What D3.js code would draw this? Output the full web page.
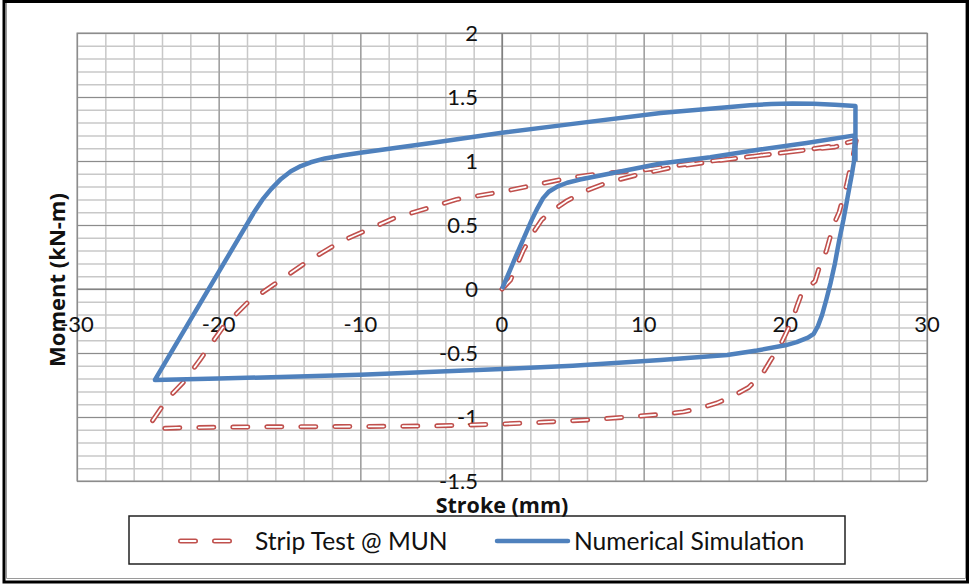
<!DOCTYPE html>
<html>
<head>
<meta charset="utf-8">
<script src="https://cdn.jsdelivr.net/npm/d3@7"></script>
<style>
  body { margin: 0; background: #fff; }
  svg text { font-family: Lato, "Open Sans", sans-serif; fill: #111; }
  svg text.axis-title { font-family: "Open Sans", sans-serif; font-weight: bold; }
</style>
</head>
<body>
<div id="chart"></div>
<script>
// Tick labels
const xTickValues = [-30, -20, -10, 0, 10, 20, 30];
const yTickValues = [-1.5, -1, -0.5, 0, 0.5, 1, 1.5, 2];

// Strip Test @ MUN (stroke mm, moment kN-m)
const stripStroke = [0, 0.6, 1.5, 2.2, 2.8, 3.4, 4.6, 6.0, 7.4, 9.5, 12, 15, 18, 21, 23.5, 25,
  24.8, 24.3, 23.8, 23.4, 22.9, 22.4, 22.1, 21.2, 20.8, 20.5, 19.6, 19.0, 18.4, 17.4, 16.4, 15.2, 14.0, 12.8, 11.2, 6.5, 3, 0, -5, -10, -17, -20, -23, -24.2,
  -24.8, -24.0, -23.2, -22.5, -21.3, -19.7, -18, -15.9, -13.8, -11.4, -7.7, -3.2, 0, 2.2, 4.8, 6.9, 10, 14, 18, 21, 23.5, 25];
const stripMoment = [0, 0.07, 0.3, 0.44, 0.54, 0.6, 0.69, 0.77, 0.83, 0.89, 0.95, 1.0, 1.04, 1.08, 1.11, 1.16,
  1.05, 0.8, 0.6, 0.5, 0.3, 0.17, 0.06, -0.02, -0.14, -0.24, -0.45, -0.55, -0.66, -0.77, -0.83, -0.89, -0.93, -0.96, -0.98, -1.02, -1.04, -1.055, -1.07, -1.074, -1.077, -1.08, -1.085, -1.09,
  -1.05, -0.92, -0.81, -0.73, -0.55, -0.3, -0.11, 0.05, 0.21, 0.37, 0.55, 0.70, 0.76, 0.81, 0.87, 0.9, 0.93, 0.99, 1.04, 1.08, 1.12, 1.16];

// Numerical Simulation
const simStroke = [0, 1, 2.1, 2.5, 2.9, 3.3, 3.9, 4.6, 5.5, 8, 11.2, 14.7, 18.2, 21.5, 24.9,
  24.85, 24.7, 24.4, 24.1, 23.8, 23.5, 23.2, 22.9, 22.6, 22.3, 22.0, 21.6, 20.8, 20, 18, 15.9, 11.2, 5, 0, -10, -20, -24.5,
  -17.5, -16.9, -16.3, -15.6, -14.9, -14.2, -13.5, -12.5, -11.2, -10, -5, 0, 5, 11.2, 15.9, 17.5, 19, 20.5, 22, 23.5, 24.95, 24.95];
const simMoment = [0, 0.26, 0.54, 0.63, 0.71, 0.76, 0.80, 0.83, 0.855, 0.91, 0.98, 1.03, 1.09, 1.14, 1.2,
  1.0, 0.9, 0.72, 0.54, 0.38, 0.2, 0.05, -0.08, -0.2, -0.29, -0.35, -0.38, -0.415, -0.44, -0.48, -0.515, -0.555, -0.6, -0.625, -0.67, -0.70, -0.71,
  0.60, 0.70, 0.78, 0.86, 0.92, 0.96, 0.99, 1.02, 1.045, 1.065, 1.14, 1.22, 1.29, 1.375, 1.42, 1.435, 1.445, 1.45, 1.448, 1.44, 1.43, 1.0];

const width = 969, height = 585;
const plot = { left: 77, right: 927, top: 33, bottom: 481 };

const svg = d3.select('#chart').append('svg')
  .attr('width', width)
  .attr('height', height);

// Outer frame
svg.append('rect')
  .attr('x', 4).attr('y', 1.5)
  .attr('width', 963.5).attr('height', 580.5)
  .attr('fill', 'none').attr('stroke', '#000').attr('stroke-width', 3);
svg.append('path')
  .attr('d', 'M6.5,3 V578.5 H965.5 V3')
  .attr('fill', 'none').attr('stroke', '#9a9a9a').attr('stroke-width', 1);

const x = d3.scaleLinear().domain([-30, 30]).range([plot.left, plot.right]);
const y = d3.scaleLinear().domain([-1.5, 2]).range([plot.bottom, plot.top]);
const plotW = plot.right - plot.left, plotH = plot.bottom - plot.top;

// Minor gridlines
svg.append('g')
  .attr('transform', `translate(0,${plot.bottom})`)
  .call(d3.axisBottom(x).tickValues(d3.range(-30, 31, 2)).tickSize(-plotH).tickFormat(''))
  .call(g => g.select('.domain').remove())
  .call(g => g.selectAll('line').attr('stroke', '#c8c8c8').attr('stroke-width', 1.5));
svg.append('g')
  .attr('transform', `translate(${plot.left},0)`)
  .call(d3.axisLeft(y).tickValues(d3.range(-15, 21, 1).map(d => d / 10)).tickSize(-plotW).tickFormat(''))
  .call(g => g.select('.domain').remove())
  .call(g => g.selectAll('line').attr('stroke', '#c8c8c8').attr('stroke-width', 1.5));

// Major gridlines
svg.append('g')
  .attr('transform', `translate(0,${plot.bottom})`)
  .call(d3.axisBottom(x).tickValues(xTickValues).tickSize(-plotH).tickFormat(''))
  .call(g => g.select('.domain').remove())
  .call(g => g.selectAll('line').attr('stroke', '#8c8c8c').attr('stroke-width', 1));
svg.append('g')
  .attr('transform', `translate(${plot.left},0)`)
  .call(d3.axisLeft(y).tickValues(yTickValues).tickSize(-plotW).tickFormat(''))
  .call(g => g.select('.domain').remove())
  .call(g => g.selectAll('line').attr('stroke', '#8c8c8c').attr('stroke-width', 1));

// Plot border
svg.append('rect')
  .attr('x', plot.left).attr('y', plot.top)
  .attr('width', plotW).attr('height', plotH)
  .attr('fill', 'none').attr('stroke', '#8c8c8c').attr('stroke-width', 1);

// Axes crossing at zero
svg.append('line')
  .attr('x1', x(0)).attr('x2', x(0)).attr('y1', plot.top).attr('y2', plot.bottom)
  .attr('stroke', '#7a7a7a').attr('stroke-width', 1.2);
svg.append('line')
  .attr('x1', plot.left).attr('x2', plot.right).attr('y1', y(0)).attr('y2', y(0))
  .attr('stroke', '#7a7a7a').attr('stroke-width', 1.2);

// Tick labels
svg.append('g').selectAll('text')
  .data(xTickValues)
  .join('text')
  .attr('x', d => x(d))
  .attr('y', y(0) + 35)
  .attr('dy', '0.35em')
  .attr('text-anchor', 'middle')
  .attr('font-size', 22)
  .text(d => d);

svg.append('g').selectAll('text')
  .data(yTickValues)
  .join('text')
  .attr('x', x(0) - 24)
  .attr('y', d => y(d))
  .attr('dy', '0.35em')
  .attr('text-anchor', 'end')
  .attr('font-size', 22)
  .text(d => d);

// Series
const line = d3.line()
  .x(d => x(d[0]))
  .y(d => y(d[1]));

const stripData = stripStroke.map((s, i) => [s, stripMoment[i]]);
const simData = simStroke.map((s, i) => [s, simMoment[i]]);

const dash = '15,19';
svg.append('path')
  .datum(stripData)
  .attr('d', line)
  .attr('fill', 'none')
  .attr('stroke', '#c0504d')
  .attr('stroke-width', 5)
  .attr('stroke-linecap', 'round')
  .attr('stroke-linejoin', 'round')
  .attr('stroke-dasharray', dash);
svg.append('path')
  .datum(stripData)
  .attr('d', line)
  .attr('fill', 'none')
  .attr('stroke', '#fff')
  .attr('stroke-width', 1.8)
  .attr('stroke-linecap', 'round')
  .attr('stroke-linejoin', 'round')
  .attr('stroke-dasharray', dash);

svg.append('path')
  .datum(simData)
  .attr('d', line)
  .attr('fill', 'none')
  .attr('stroke', '#4f81bd')
  .attr('stroke-width', 4.5)
  .attr('stroke-linejoin', 'round');

// Legend
const legend = svg.append('g');
legend.append('rect')
  .attr('x', 129).attr('y', 516)
  .attr('width', 716).attr('height', 48)
  .attr('fill', '#fff').attr('stroke', '#222').attr('stroke-width', 1.5);

const ly = 541;
legend.append('line')
  .attr('x1', 180.5).attr('x2', 231).attr('y1', ly).attr('y2', ly)
  .attr('stroke', '#c0504d').attr('stroke-width', 5)
  .attr('stroke-linecap', 'round').attr('stroke-dasharray', dash);
legend.append('line')
  .attr('x1', 180.5).attr('x2', 231).attr('y1', ly).attr('y2', ly)
  .attr('stroke', '#fff').attr('stroke-width', 1.8)
  .attr('stroke-linecap', 'round').attr('stroke-dasharray', dash);
legend.append('text')
  .attr('x', 255).attr('y', ly).attr('dy', '0.35em')
  .attr('font-size', 24.6)
  .text('Strip Test @ MUN');

legend.append('line')
  .attr('x1', 497).attr('x2', 568).attr('y1', ly).attr('y2', ly)
  .attr('stroke', '#4f81bd').attr('stroke-width', 4.5)
  .attr('stroke-linecap', 'round');
legend.append('text')
  .attr('x', 574).attr('y', ly).attr('dy', '0.35em')
  .attr('font-size', 24.6)
  .text('Numerical Simulation');

// Axis titles
svg.append('text')
  .attr('class', 'axis-title')
  .attr('x', 502).attr('y', 505.5)
  .attr('dy', '0.35em')
  .attr('text-anchor', 'middle')
  .attr('font-size', 21.5)
  .text('Stroke (mm)');

svg.append('text')
  .attr('class', 'axis-title')
  .attr('transform', 'translate(57,280) rotate(-90)')
  .attr('dy', '0.35em')
  .attr('text-anchor', 'middle')
  .attr('font-size', 22)
  .text('Moment (kN-m)');
</script>
</body>
</html>
